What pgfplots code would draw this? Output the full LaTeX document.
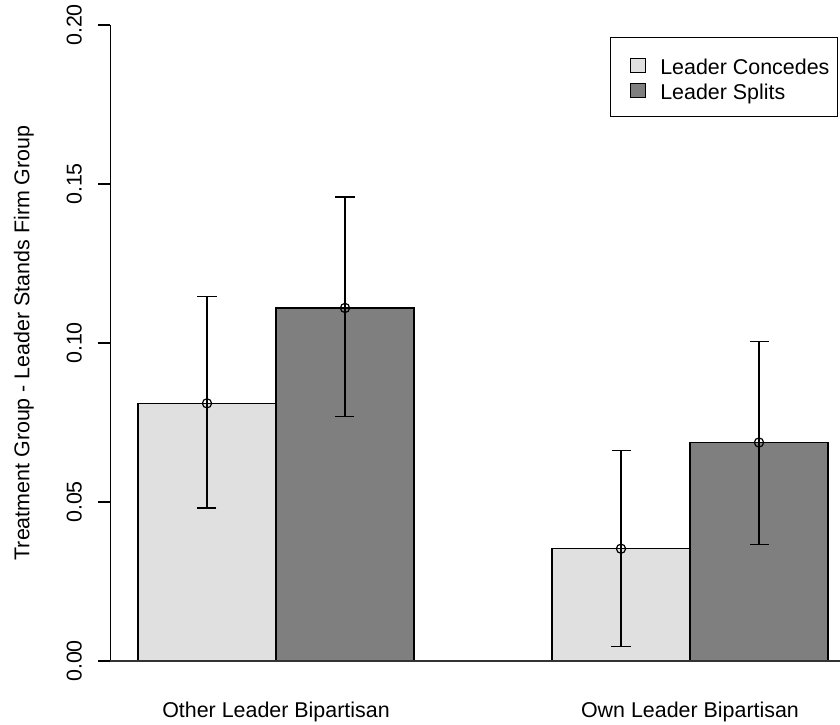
\documentclass[border=0pt]{standalone}
\usepackage{pgfplots}
\pgfplotsset{compat=1.18}
\usepackage{fontspec}
\setmainfont{Liberation Sans}
\definecolor{lightbar}{HTML}{E0E0E0}
\definecolor{darkbar}{HTML}{7F7F7F}
\newcommand\rfont{\fontsize{21.5}{25}\selectfont}
\begin{document}
\rfont
\begin{tikzpicture}
\begin{axis}[
  at={(0,0)}, anchor=south west,
  scale only axis,
  width=729.6bp, height=686.9bp,
  xmin=0.8, xmax=6.087, ymin=-0.008, ymax=0.208,
  clip=false,
  axis line style={draw=none},
  xtick={2,5},
  xticklabels={Other Leader Bipartisan, Own Leader Bipartisan},
  xtick style={draw=none},
  xticklabel style={font=\rfont, anchor=base, yshift=-18.9bp},
  ytick={0,0.05,0.1,0.15,0.2},
  ytick pos=left,
  tick align=outside,
  major tick length=12bp,
  ytick style={black, line width=1.2bp},
  scaled y ticks=false,
  /pgf/number format/assume math mode=true,
  yticklabel style={font=\rfont, rotate=90, anchor=base,
    /pgf/number format/fixed, /pgf/number format/fixed zerofill,
    /pgf/number format/precision=2},
  yticklabel shift=16.7bp,
  legend cell align=left,
  legend style={at={(axis cs:6.072,0.1962)}, anchor=north east,
    draw=black, line width=1bp, fill=white,
    inner xsep=2.5bp, inner ysep=14.5bp, column sep=9bp, row sep=0pt,
    font=\rfont,
    nodes={text height=20.75bp, text depth=0.75bp, inner ysep=1.75bp, inner xsep=5.5bp}},
]
\addplot[ybar, bar width=1, bar shift=0pt, fill=lightbar, draw=black, line width=1.2bp,
  legend image code/.code={\path[draw=none, fill=none] (-6bp,-12.5bp) rectangle (26bp,12.5bp);
    \draw[fill=lightbar, draw=black, line width=1bp] (11bp,-8.3bp) rectangle (26bp,5.7bp);}]
  coordinates {(1.5,0.0810) (4.5,0.0353)};
\addlegendentry{Leader Concedes}
\addplot[ybar, bar width=1, bar shift=0pt, fill=darkbar, draw=black, line width=1.2bp,
  legend image code/.code={\path[draw=none, fill=none] (-6bp,-12.5bp) rectangle (26bp,12.5bp);
    \draw[fill=darkbar, draw=black, line width=1bp] (11bp,-8.3bp) rectangle (26bp,5.7bp);}]
  coordinates {(2.5,0.1110) (5.5,0.0687)};
\addlegendentry{Leader Splits}
\addplot[only marks, mark=o, mark size=4.6bp, black, line width=1.2bp, forget plot,
  mark options={line width=1.2bp, black},
  error bars/.cd, y dir=both, y explicit,
  error bar style={black, line width=1.2bp},
  error mark options={rotate=90, mark size=9.5bp, line width=1.2bp, black}]
  coordinates {
    (1.5,0.0810) += (0,0.0336) -= (0,0.0329)
    (2.5,0.1110) += (0,0.0349) -= (0,0.0342)
    (4.5,0.0353) += (0,0.0310) -= (0,0.0308)
    (5.5,0.0687) += (0,0.0317) -= (0,0.0321)
  };
\draw[black, line width=1.2bp] (axis cs:0.8,0) -- (axis cs:0.8,0.2);
\draw[black!80, line width=1.2bp] (axis cs:0.8,0) -- (axis cs:6.087,0);
\node[font=\rfont, rotate=90, anchor=base] at ([xshift=-80.9bp]rel axis cs:0,0.5)
  {Treatment Group - Leader Stands Firm Group};
\end{axis}
\pgfresetboundingbox
\useasboundingbox (-110.4bp,-38.6bp) rectangle (729.6bp,686.4bp);
\end{tikzpicture}
\end{document}
